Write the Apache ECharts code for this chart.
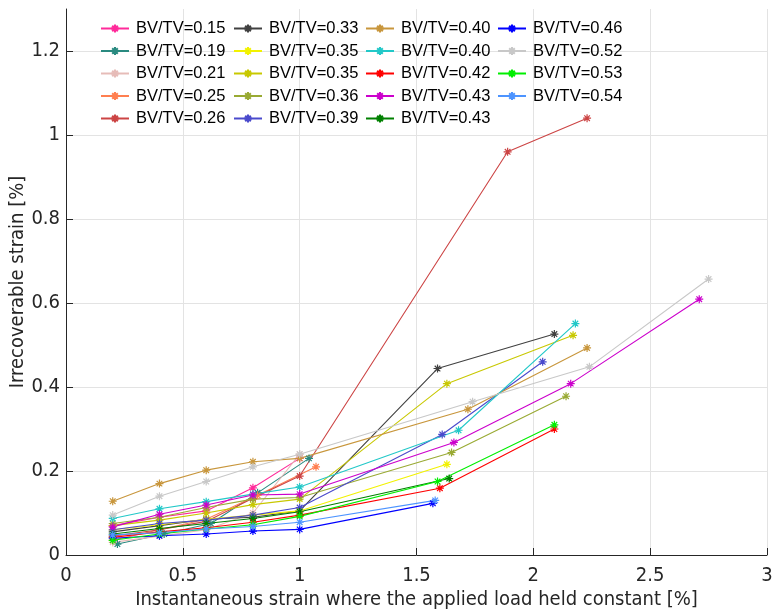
<!DOCTYPE html>
<html>
<head>
<meta charset="utf-8">
<script src="https://cdn.jsdelivr.net/npm/echarts@6/dist/echarts.min.js"></script>
<style>
html,body{margin:0;padding:0;background:#fff;}
#chart{width:773px;height:614px;}
</style>
</head>
<body>
<div id="chart"></div>
<script>
// Legend labels (in legend order, column-wise)
const labels = [
  'BV/TV=0.15','BV/TV=0.19','BV/TV=0.21','BV/TV=0.25','BV/TV=0.26',
  'BV/TV=0.33','BV/TV=0.35','BV/TV=0.35','BV/TV=0.36','BV/TV=0.39',
  'BV/TV=0.40','BV/TV=0.40','BV/TV=0.42','BV/TV=0.43','BV/TV=0.43',
  'BV/TV=0.46','BV/TV=0.52','BV/TV=0.53','BV/TV=0.54'
];
const colors = [
  '#ff2a9a','#2a8a80','#e6bcb8','#ff7f50','#cc4444',
  '#404040','#f2f200','#c8c800','#99aa33','#4a4acc',
  '#c8963c','#22c8c8','#ff0000','#cc00cc','#008000',
  '#0000ff','#c8c8c8','#00ee00','#4d94ff'
];
// Instantaneous strain [%]
const xVals = [
  [0.2,0.4,0.6,0.8,1.0],
  [0.22,0.42,0.62,0.82,1.04],
  [0.2,0.4,0.6,0.8,1.0],
  [0.2,0.4,0.6,0.82,1.07],
  [0.2,0.4,0.6,0.8,1.0,1.89,2.23],
  [0.2,0.4,0.6,0.8,1.0,1.59,2.09],
  [0.2,0.4,0.6,0.8,1.0,1.63],
  [0.2,0.4,0.6,0.8,1.0,1.63,2.17],
  [0.2,0.4,0.6,0.8,1.0,1.65,2.14],
  [0.2,0.4,0.6,0.8,1.0,1.61,2.04],
  [0.2,0.4,0.6,0.8,1.0,1.72,2.23],
  [0.2,0.4,0.6,0.8,1.0,1.68,2.18],
  [0.2,0.4,0.6,0.8,1.0,1.6,2.09],
  [0.2,0.4,0.6,0.8,1.0,1.66,2.16,2.71],
  [0.2,0.4,0.6,0.8,1.0,1.64],
  [0.2,0.4,0.6,0.8,1.0,1.57],
  [0.2,0.4,0.6,0.8,1.0,1.74,2.24,2.75],
  [0.2,0.4,0.6,0.8,1.0,1.59,2.09],
  [0.2,0.4,0.6,0.8,1.0,1.58]
];
// Irrecoverable strain [%]
const yVals = [
  [0.07,0.09,0.105,0.16,0.23],
  [0.026,0.05,0.075,0.148,0.23],
  [0.03,0.045,0.06,0.1,0.24],
  [0.035,0.06,0.085,0.142,0.21],
  [0.045,0.06,0.08,0.135,0.188,0.96,1.04],
  [0.055,0.07,0.085,0.09,0.105,0.444,0.526],
  [0.06,0.072,0.085,0.095,0.105,0.216],
  [0.07,0.083,0.1,0.12,0.133,0.408,0.523],
  [0.075,0.09,0.113,0.133,0.137,0.244,0.378],
  [0.06,0.075,0.083,0.095,0.113,0.287,0.46],
  [0.128,0.17,0.202,0.222,0.23,0.347,0.493],
  [0.087,0.11,0.127,0.145,0.162,0.297,0.551],
  [0.042,0.055,0.065,0.078,0.095,0.159,0.3],
  [0.067,0.097,0.119,0.143,0.145,0.268,0.408,0.609],
  [0.05,0.063,0.075,0.087,0.103,0.182],
  [0.04,0.046,0.05,0.057,0.061,0.123],
  [0.095,0.14,0.175,0.21,0.24,0.365,0.448,0.657],
  [0.035,0.05,0.062,0.072,0.092,0.175,0.31],
  [0.048,0.053,0.062,0.068,0.078,0.13]
];
const xTitle = 'Instantaneous strain where the applied load held constant [%]';
const yTitle = 'Irrecoverable strain [%]';

const star = 'path://M5 0 L5 10 M0 5 L10 5 M1.5 1.5 L8.5 8.5 M1.5 8.5 L8.5 1.5';
const narrow = "'Liberation Sans Narrow', 'DejaVu Sans Condensed', sans-serif";
const uid = (i) => labels[i] + '#' + i;

const series = labels.map((l, i) => ({
  name: uid(i),
  type: 'line',
  data: xVals[i].map((x, j) => [x, yVals[i][j]]),
  symbol: star,
  symbolSize: 8,
  color: colors[i],
  lineStyle: { width: 1.1, color: colors[i] },
  itemStyle: { color: colors[i], borderColor: colors[i], borderWidth: 1.2 },
  animation: false
}));

const colLeft = [95, 228, 360, 492];
const legends = colLeft.map((left, c) => ({
  orient: 'vertical',
  left: left,
  top: 15,
  itemWidth: 28,
  itemHeight: 10,
  itemGap: 5.5,
  data: labels.map((l, i) => uid(i)).slice(c * 5, c * 5 + 5),
  formatter: (n) => n.split('#')[0],
  textStyle: { fontFamily: "'Liberation Sans', Arial, sans-serif", fontSize: 16.5, color: '#000', lineHeight: 17, padding: [0, 0, 0, 2] },
  selectedMode: false
}));

const chart = echarts.init(document.getElementById('chart'), null, { renderer: 'canvas' });
chart.setOption({
  backgroundColor: '#fff',
  animation: false,
  grid: { left: 66, right: 6, top: 9, bottom: 59, containLabel: false, outerBoundsMode: 'none' },
  legend: legends,
  xAxis: {
    type: 'value', min: 0, max: 3, interval: 0.5,
    name: xTitle, nameLocation: 'middle', nameGap: 35, nameMoveOverlap: false,
    nameTextStyle: { fontFamily: narrow, fontSize: 20, color: '#262626' },
    axisLine: { show: true, lineStyle: { color: '#262626', width: 1 } },
    axisTick: { show: true, inside: true, length: 7, lineStyle: { color: '#262626' } },
    axisLabel: { fontFamily: narrow, fontSize: 20, color: '#262626', margin: 11 },
    splitLine: { show: true, lineStyle: { color: '#e3e3e3', width: 1 } }
  },
  yAxis: {
    type: 'value', min: 0, max: 1.3, interval: 0.2,
    name: yTitle, nameLocation: 'middle', nameGap: 38, nameMoveOverlap: false,
    nameTextStyle: { fontFamily: narrow, fontSize: 20, color: '#262626' },
    axisLine: { show: true, lineStyle: { color: '#262626', width: 1 } },
    axisTick: { show: true, inside: true, length: 7, lineStyle: { color: '#262626' } },
    axisLabel: { fontFamily: narrow, fontSize: 20, color: '#262626', margin: 6, showMaxLabel: false,
      formatter: (v) => (v > 1.25 ? '' : String(+v.toFixed(1))) },
    splitLine: { show: true, showMaxLine: false, lineStyle: { color: '#e3e3e3', width: 1 } }
  },
  series: series
});
</script>
</body>
</html>
